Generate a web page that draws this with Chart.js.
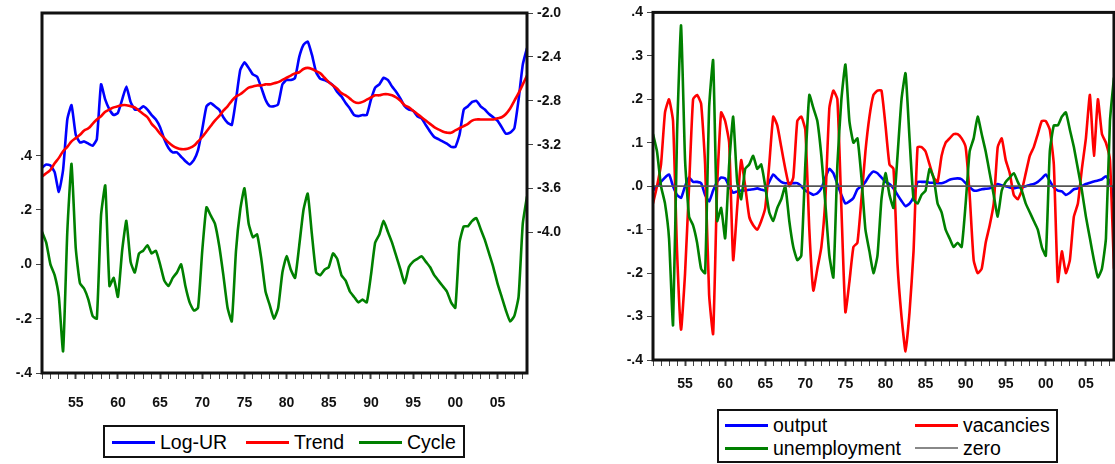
<!DOCTYPE html>
<html>
<head>
<meta charset="utf-8">
<title>Unemployment cycle</title>
<script src="https://cdn.jsdelivr.net/npm/chart.js@4.4.1/dist/chart.umd.min.js"></script>
<style>
    body { margin: 0; width: 1115px; height: 464px; overflow: hidden; position: relative; background: #fff; font-family: "Liberation Sans", Arial, sans-serif; }
    canvas { position: absolute; top: 0; }
    #leftChart { left: 0; }
    #rightChart { left: 590px; }
    .legend { position: absolute; box-sizing: border-box; border: 2px solid #111; background: #fff; }
    .item { position: absolute; display: flex; align-items: center; height: 22px; font-size: 19.5px; color: #000; white-space: nowrap; }
    .item .swatch { display: inline-block; width: 43px; height: 3px; margin-right: 5px; }
</style>
</head>
<body>
<canvas id="leftChart" width="590" height="412"></canvas>
<canvas id="rightChart" width="530" height="400"></canvas>
<div class="legend" id="leftLegend" style="left:103px; top:425px; width:362px; height:33px;"></div>
<div class="legend" id="rightLegend" style="left:717px; top:409px; width:341px; height:54px;"></div>
<script>
// half-yearly observations, 1951 to 2008
const firstYear = 1951;
const stepsPerYear = 2;

// left panel, right axis: log unemployment rate and its trend
const logUR = [
    -3.41, -3.38, -3.39, -3.45, -3.63, -3.43, -2.97, -2.84, -3.11, -3.18,
    -3.17, -3.19, -3.21, -3.15, -2.65, -2.79, -2.88, -2.93, -2.91, -2.79,
    -2.67, -2.81, -2.88, -2.88, -2.85, -2.88, -2.93, -2.97, -3.04, -3.15,
    -3.23, -3.27, -3.27, -3.31, -3.35, -3.38, -3.34, -3.25, -3.06, -2.85,
    -2.82, -2.85, -2.88, -2.95, -3.00, -3.02, -2.79, -2.52, -2.45, -2.50,
    -2.56, -2.58, -2.68, -2.79, -2.85, -2.85, -2.83, -2.65, -2.61, -2.61,
    -2.59, -2.40, -2.29, -2.26, -2.38, -2.54, -2.60, -2.61, -2.63, -2.66,
    -2.72, -2.76, -2.82, -2.87, -2.93, -2.94, -2.93, -2.93, -2.79, -2.68,
    -2.65, -2.59, -2.61, -2.67, -2.72, -2.78, -2.85, -2.88, -2.89, -2.94,
    -2.96, -3.02, -3.08, -3.13, -3.15, -3.17, -3.19, -3.22, -3.22, -3.11,
    -2.88, -2.85, -2.81, -2.80, -2.85, -2.88, -2.92, -2.95, -2.98, -3.04,
    -3.10, -3.09, -3.05, -2.79, -2.47, -2.32
];
const trend = [
    -3.49, -3.46, -3.43, -3.37, -3.32, -3.26, -3.22, -3.17, -3.14, -3.11,
    -3.07, -3.05, -3.01, -2.97, -2.94, -2.90, -2.88, -2.86, -2.85, -2.84,
    -2.84, -2.85, -2.86, -2.89, -2.92, -2.95, -3.01, -3.05, -3.10, -3.14,
    -3.18, -3.21, -3.23, -3.24, -3.24, -3.23, -3.21, -3.17, -3.13, -3.08,
    -3.03, -2.98, -2.94, -2.89, -2.85, -2.80, -2.76, -2.74, -2.71, -2.68,
    -2.67, -2.66, -2.66, -2.65, -2.65, -2.64, -2.63, -2.61, -2.59, -2.57,
    -2.55, -2.54, -2.51, -2.50, -2.51, -2.53, -2.55, -2.59, -2.63, -2.66,
    -2.69, -2.73, -2.75, -2.78, -2.81, -2.82, -2.81, -2.79, -2.77, -2.75,
    -2.75, -2.74, -2.74, -2.75, -2.77, -2.80, -2.84, -2.86, -2.89, -2.92,
    -2.95, -2.98, -3.01, -3.04, -3.06, -3.08, -3.09, -3.09, -3.07, -3.05,
    -3.03, -3.01, -2.98, -2.97, -2.97, -2.97, -2.97, -2.97, -2.96, -2.95,
    -2.92, -2.87, -2.80, -2.73, -2.65, -2.57
];
// left panel, left axis
const cycle = [
    0.12, 0.08, 0.00, -0.04, -0.12, -0.32, 0.12, 0.37, 0.06, -0.07,
    -0.09, -0.13, -0.19, -0.20, 0.18, 0.29, -0.08, -0.05, -0.12, 0.05,
    0.16, 0.01, -0.03, 0.04, 0.05, 0.07, 0.04, 0.05, 0.00, -0.06,
    -0.08, -0.05, -0.03, 0.00, -0.08, -0.14, -0.17, -0.16, 0.05, 0.21,
    0.18, 0.15, 0.07, -0.04, -0.16, -0.21, 0.05, 0.20, 0.28, 0.15,
    0.10, 0.11, 0.02, -0.10, -0.15, -0.20, -0.16, -0.03, 0.03, -0.02,
    -0.05, 0.07, 0.20, 0.26, 0.11, -0.03, -0.04, -0.02, -0.01, 0.04,
    0.02, -0.04, -0.06, -0.10, -0.12, -0.14, -0.13, -0.14, -0.04, 0.08,
    0.11, 0.16, 0.12, 0.08, 0.03, -0.02, -0.07, -0.01, 0.01, 0.02,
    0.03, 0.01, -0.01, -0.04, -0.06, -0.08, -0.10, -0.14, -0.16, 0.08,
    0.14, 0.14, 0.16, 0.17, 0.13, 0.09, 0.04, -0.01, -0.07, -0.12,
    -0.17, -0.21, -0.19, -0.12, 0.15, 0.25
];

// right panel
const output = [
    -0.010, 0.000, 0.010, 0.020, 0.027, 0.000, -0.020, -0.027, 0.000, 0.020,
    0.010, 0.010, 0.007, -0.020, -0.035, -0.010, 0.010, 0.020, 0.018, 0.000,
    -0.015, -0.012, -0.010, -0.010, -0.008, -0.007, -0.005, -0.008, -0.010, 0.010,
    0.027, 0.018, 0.010, 0.007, 0.007, 0.007, 0.007, 0.000, -0.010, -0.015,
    -0.020, -0.016, -0.005, 0.020, 0.040, 0.030, 0.005, -0.020, -0.040, -0.035,
    -0.027, -0.007, 0.000, 0.010, 0.025, 0.034, 0.030, 0.020, 0.010, 0.005,
    -0.005, -0.020, -0.034, -0.046, -0.040, -0.025, 0.010, 0.010, 0.010, 0.008,
    0.008, 0.007, 0.007, 0.010, 0.015, 0.017, 0.018, 0.016, 0.007, -0.002,
    -0.010, -0.010, -0.007, -0.006, -0.005, 0.000, 0.005, 0.002, 0.000, -0.003,
    -0.005, -0.003, -0.002, 0.000, 0.003, 0.005, 0.010, 0.018, 0.027, 0.012,
    -0.003, -0.010, -0.012, -0.020, -0.015, -0.007, -0.005, 0.000, 0.005, 0.008,
    0.011, 0.013, 0.016, 0.023, 0.010, -0.030
];
const vacancies = [
    -0.04, 0.00, 0.05, 0.17, 0.20, 0.15, -0.15, -0.33, -0.20, 0.00,
    0.20, 0.21, 0.19, 0.05, -0.25, -0.34, 0.00, 0.17, 0.15, 0.10,
    -0.17, -0.05, 0.06, 0.00, -0.07, -0.09, -0.10, -0.08, -0.05, 0.05,
    0.16, 0.14, 0.09, 0.04, 0.00, 0.02, 0.15, 0.16, 0.13, -0.10,
    -0.24, -0.19, -0.14, -0.03, 0.18, 0.22, 0.20, -0.05, -0.29, -0.22,
    -0.14, -0.13, -0.03, 0.08, 0.16, 0.21, 0.22, 0.22, 0.14, 0.05,
    0.04, -0.18, -0.30, -0.38, -0.29, -0.15, 0.09, 0.09, 0.08, 0.05,
    0.02, 0.01, 0.07, 0.10, 0.11, 0.12, 0.12, 0.11, 0.09, -0.02,
    -0.17, -0.20, -0.19, -0.13, -0.09, -0.04, 0.09, 0.11, 0.06, 0.03,
    -0.02, -0.03, -0.01, 0.03, 0.07, 0.09, 0.12, 0.15, 0.15, 0.13,
    0.05, -0.22, -0.15, -0.20, -0.17, -0.07, -0.04, 0.04, 0.11, 0.21,
    0.07, 0.20, 0.12, 0.10, 0.06, -0.19
];
// the unemployment gap is the same series as the cycle on the left
const unemployment = cycle.slice();

// tick labels
const cycleTicks = [-0.4, -0.2, 0, 0.2, 0.4];
const urTicks = [-4.0, -3.6, -3.2, -2.8, -2.4, -2.0];
const gapTicks = [-0.4, -0.3, -0.2, -0.1, 0, 0.1, 0.2, 0.3, 0.4];
const labelYears = [1955, 1960, 1965, 1970, 1975, 1980, 1985, 1990, 1995, 2000, 2005];

const years = logUR.map((_, i) => firstYear + i / stepsPerYear);
const lastYear = years[years.length - 1];
const zero = years.map(() => 0);
const pts = vals => vals.map((v, i) => ({ x: years[i], y: v }));

const BLUE = '#0000ff', RED = '#ff0000', GREEN = '#008000', GREY = '#555555';
const tickFont = { family: '"Liberation Sans", Arial, sans-serif', size: 14, weight: 'bold' };

// EViews style closed box round the plot area
const framePlugin = {
    id: 'frame',
    afterDatasetsDraw(chart) {
        const { ctx, chartArea: a } = chart;
        ctx.save();
        ctx.strokeStyle = '#111';
        ctx.lineWidth = 3;
        ctx.strokeRect(a.left, a.top, a.right - a.left, a.bottom - a.top);
        ctx.restore();
    }
};

const fmtDot = v => (v < 0 ? '-' : '') + Math.abs(v).toFixed(1).replace(/^0/, '');

function yearAxis(height, pad) {
    return {
        type: 'linear',
        min: firstYear,
        max: lastYear,
        afterBuildTicks: s => {
            const t = [];
            for (let y = firstYear; y <= lastYear; y++) t.push({ value: y });
            s.ticks = t;
        },
        afterFit: s => { s.height = height; },
        border: { display: false },
        grid: {
            drawOnChartArea: false,
            tickLength: 6,
            tickColor: '#444',
            tickWidth: c => (c.tick && labelYears.includes(c.tick.value) ? 2 : 1)
        },
        ticks: {
            autoSkip: false,
            maxRotation: 0,
            minRotation: 0,
            padding: pad,
            color: '#111',
            font: tickFont,
            callback: v => (labelYears.includes(v) ? String(v).slice(2) : '')
        }
    };
}

function valueAxis(pos, min, max, list, width, fmt) {
    return {
        position: pos,
        min: min,
        max: max,
        afterBuildTicks: s => { s.ticks = list.map(v => ({ value: v })); },
        afterFit: s => { s.width = width; },
        border: { display: false },
        grid: { drawOnChartArea: false, tickLength: 6, tickColor: '#444' },
        ticks: { padding: 4, color: '#111', font: tickFont, callback: fmt }
    };
}

const line = (label, data, color, axis, extra) => Object.assign({
    label: label,
    data: pts(data),
    yAxisID: axis,
    borderColor: color,
    backgroundColor: color,
    borderWidth: 2.6,
    pointRadius: 0,
    tension: 0.15,
    fill: false
}, extra || {});

new Chart(document.getElementById('leftChart'), {
    type: 'line',
    data: {
        datasets: [
            line('Cycle', cycle, GREEN, 'yL'),
            line('Trend', trend, RED, 'yR', { tension: 0.4 }),
            line('Log-UR', logUR, BLUE, 'yR')
        ]
    },
    options: {
        responsive: false,
        animation: false,
        devicePixelRatio: 1,
        layout: { padding: { top: 13, left: 0, right: 0, bottom: 0 } },
        plugins: { legend: { display: false }, tooltip: { enabled: false } },
        scales: {
            x: yearAxis(39, 16),
            yL: valueAxis('left', -0.4, 0.925, cycleTicks, 42, fmtDot),
            yR: valueAxis('right', -5.28, -2.0, urTicks, 63, v => v.toFixed(1))
        }
    },
    plugins: [framePlugin]
});

new Chart(document.getElementById('rightChart'), {
    type: 'line',
    data: {
        datasets: [
            line('zero', zero, GREY, 'y', { borderWidth: 1.8, tension: 0 }),
            line('unemployment', unemployment, GREEN, 'y'),
            line('vacancies', vacancies, RED, 'y'),
            line('output', output, BLUE, 'y')
        ]
    },
    options: {
        responsive: false,
        animation: false,
        devicePixelRatio: 1,
        layout: { padding: { top: 10, left: 0, right: 6, bottom: 0 } },
        plugins: { legend: { display: false }, tooltip: { enabled: false } },
        scales: {
            x: yearAxis(40, 10),
            y: valueAxis('left', -0.4, 0.4, gapTicks, 63, fmtDot)
        }
    },
    plugins: [framePlugin]
});

// boxed legends as in the original
function addItem(box, text, color, left, top, thin) {
    const el = document.createElement('div');
    el.className = 'item';
    el.style.left = left + 'px';
    el.style.top = top + 'px';
    const sw = document.createElement('span');
    sw.className = 'swatch';
    sw.style.background = color;
    if (thin) sw.style.height = '2px';
    el.appendChild(sw);
    el.appendChild(document.createTextNode(text));
    box.appendChild(el);
}
const leftLegend = document.getElementById('leftLegend');
addItem(leftLegend, 'Log-UR', BLUE, 7, 4);
addItem(leftLegend, 'Trend', RED, 141, 4);
addItem(leftLegend, 'Cycle', GREEN, 254, 4);
const rightLegend = document.getElementById('rightLegend');
addItem(rightLegend, 'output', BLUE, 6, 3);
addItem(rightLegend, 'vacancies', RED, 196, 3);
addItem(rightLegend, 'unemployment', GREEN, 6, 26);
addItem(rightLegend, 'zero', '#888888', 196, 26, true);
</script>
</body>
</html>
